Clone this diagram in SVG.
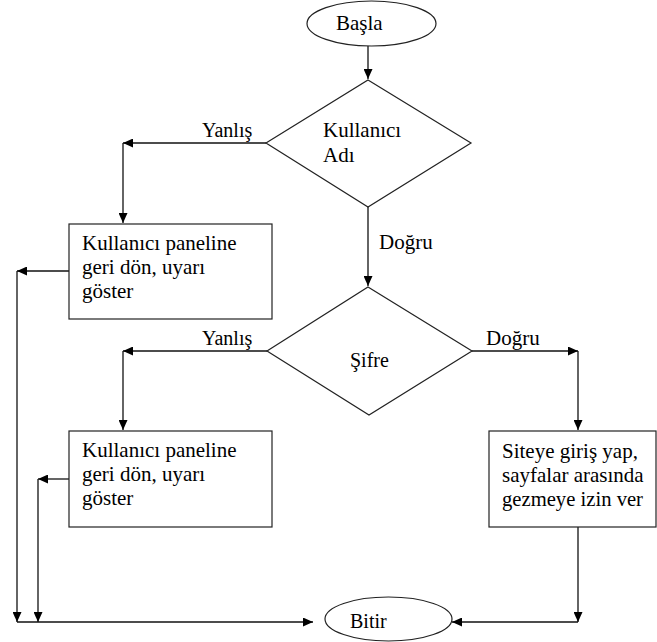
<svg xmlns="http://www.w3.org/2000/svg" width="657" height="642" viewBox="0 0 657 642">
<defs>
<marker id="ah" markerWidth="11" markerHeight="9" refX="10" refY="4.5" orient="auto" markerUnits="userSpaceOnUse">
<path d="M0,0 L10,4.5 L0,9 z" fill="#000"/>
</marker>
<style>
.shape{fill:#fff;stroke:#222;stroke-width:1.2}
.con{fill:none;stroke:#111;stroke-width:1.3}
.arr{marker-end:url(#ah)}
.t{font-family:"Times New Roman",Tinos,"Liberation Serif","DejaVu Serif","Noto Serif",serif;font-size:21px;fill:#000}
.lbl{font-size:20px}
</style>
</defs>
<rect width="657" height="642" fill="#fff"/>
<g id="connectors">
<path class="con arr" d="M368,46 L368,79"/>
<path class="con arr" d="M266,143 L123,143"/>
<path class="con arr" d="M123,143 L123,223"/>
<path class="con arr" d="M368,207 L368,286"/>
<path class="con arr" d="M267,351 L123,351"/>
<path class="con arr" d="M123,351 L123,430"/>
<path class="con arr" d="M472,351 L578,351"/>
<path class="con arr" d="M578,351 L578,430"/>
<path class="con arr" d="M69,271 L17,271"/>
<path class="con arr" d="M17,271 L17,622"/>
<path class="con arr" d="M69,479 L38,479"/>
<path class="con arr" d="M38,479 L38,622"/>
<path class="con arr" d="M17,622 L313,622"/>
<path class="con arr" d="M578,527 L578,622"/>
<path class="con arr" d="M578,622 L452,622"/>
<text class="t lbl" x="202" y="137">Yanlış</text>
<text class="t" x="379" y="249">Doğru</text>
<text class="t lbl" x="202" y="345">Yanlış</text>
<text class="t" x="486" y="345">Doğru</text>
</g>
<g id="start">
<ellipse class="shape" cx="371.5" cy="23.5" rx="64.5" ry="22.5"/>
<text class="t" x="336" y="30">Başla</text>
</g>
<g id="decision-user">
<polygon class="shape" points="368,80 471,143 368,207 266,143"/>
<text class="t" x="323" y="137">Kullanıcı</text>
<text class="t" x="323" y="162">Adı</text>
</g>
<g id="box-warn-1">
<rect class="shape" x="69" y="224" width="203" height="95"/>
<text class="t" x="82" y="250">Kullanıcı paneline</text>
<text class="t" x="82" y="274">geri dön, uyarı</text>
<text class="t" x="82" y="298">göster</text>
</g>
<g id="decision-password">
<polygon class="shape" points="368,287 472,351 369,415 267,351"/>
<text class="t lbl" x="350" y="367">Şifre</text>
</g>
<g id="box-warn-2">
<rect class="shape" x="69" y="431" width="203" height="96"/>
<text class="t" x="82" y="457">Kullanıcı paneline</text>
<text class="t" x="82" y="481">geri dön, uyarı</text>
<text class="t" x="82" y="505">göster</text>
</g>
<g id="box-login">
<rect class="shape" x="489" y="431" width="167" height="96"/>
<text class="t" x="502" y="458">Siteye giriş yap,</text>
<text class="t" x="502" y="482">sayfalar arasında</text>
<text class="t" x="502" y="506" textLength="141" lengthAdjust="spacingAndGlyphs">gezmeye izin ver</text>
</g>
<g id="end">
<ellipse class="shape" cx="388.5" cy="619" rx="63.5" ry="22"/>
<text class="t lbl" x="350" y="628">Bitir</text>
</g>
</svg>
